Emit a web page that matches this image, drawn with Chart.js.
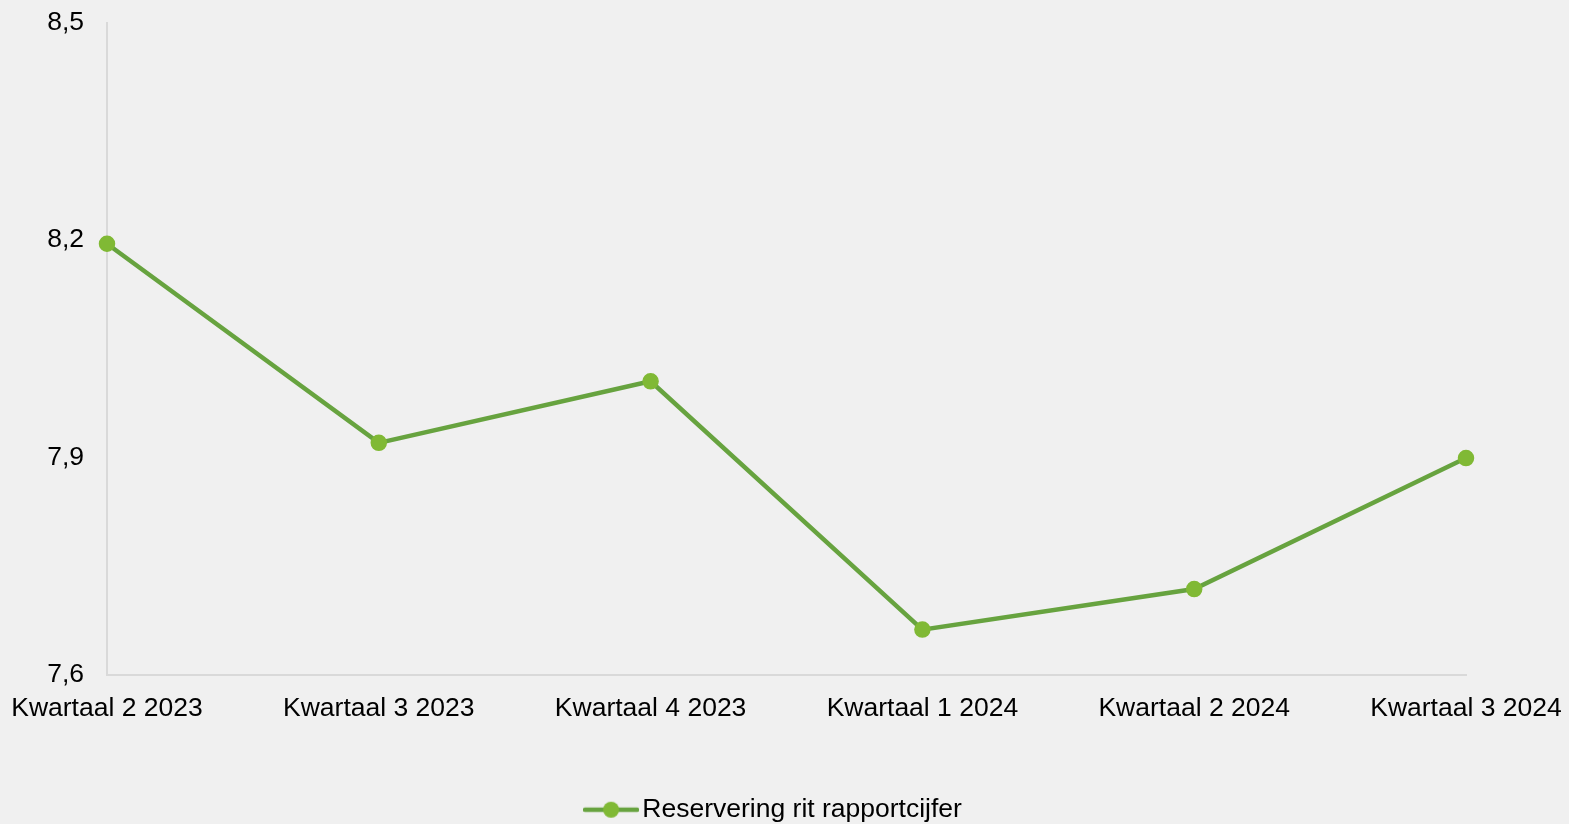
<!DOCTYPE html>
<html>
<head>
<meta charset="utf-8">
<script src="https://cdn.jsdelivr.net/npm/chart.js@4/dist/chart.umd.min.js"></script>
<style>
  html, body { margin: 0; padding: 0; background: #f0f0f0; }
  #wrap { width: 1569px; height: 824px; }
</style>
</head>
<body>
<div id="wrap"><canvas id="c" width="1569" height="824"></canvas></div>
<script>
const categories = ["Kwartaal 2 2023", "Kwartaal 3 2023", "Kwartaal 4 2023", "Kwartaal 1 2024", "Kwartaal 2 2024", "Kwartaal 3 2024"];
const seriesName = "Reservering rit rapportcijfer";
const seriesValues = [8.195, 7.92, 8.005, 7.662, 7.718, 7.899];
const yTicks = [7.6, 7.9, 8.2, 8.5];

const LINE = '#67a33f';
const MARK = '#80b935';
const FONT = "'Liberation Sans', Arial, sans-serif";
const FS = 26.5;

// legend symbol: line with a marker in the middle
const sym = document.createElement('canvas');
sym.width = 56; sym.height = 18;
(function(){
  const g = sym.getContext('2d');
  g.strokeStyle = LINE; g.lineWidth = 4.5; g.lineCap = 'round';
  g.beginPath(); g.moveTo(2, 9); g.lineTo(54, 9); g.stroke();
  g.fillStyle = MARK; g.beginPath(); g.arc(28, 9, 8, 0, Math.PI * 2); g.fill();
})();

new Chart(document.getElementById('c'), {
  type: 'line',
  data: {
    labels: categories,
    datasets: [{
      label: seriesName,
      data: seriesValues,
      borderColor: LINE,
      borderWidth: 4.5,
      pointBackgroundColor: MARK,
      pointBorderColor: MARK,
      pointBorderWidth: 1.5,
      pointRadius: 7.5,
      tension: 0,
      clip: false
    }]
  },
  options: {
    responsive: false,
    animation: false,
    layout: { padding: { left: 0, right: 14, top: 23, bottom: -9 } },
    plugins: {
      tooltip: { enabled: false },
      legend: {
        position: 'bottom',
        labels: {
          font: { family: FONT, size: FS },
          color: '#000',
          padding: 4,
          usePointStyle: true,
          pointStyleWidth: 36,
          boxHeight: 18,
          generateLabels: (chart) => [{
            text: seriesName,
            pointStyle: sym,
            fillStyle: MARK,
            strokeStyle: LINE,
            lineWidth: 0,
            hidden: false,
            datasetIndex: 0,
            fontColor: '#000'
          }]
        }
      }
    },
    scales: {
      x: {
        offset: false,
        grid: { display: false, drawTicks: false },
        border: { display: true, color: '#d9d9d9', width: 2 },
        ticks: { font: { family: FONT, size: FS }, color: '#000', padding: 18, maxRotation: 0, autoSkip: false },
        afterFit: (s) => { s.height = 118; s.paddingLeft = 0; s.paddingRight = 103; }
      },
      y: {
        min: 7.6,
        max: 8.5,
        afterBuildTicks: (s) => { s.ticks = yTicks.map(v => ({ value: v })); },
        grid: { display: false, drawTicks: false },
        border: { display: true, color: '#d9d9d9', width: 2 },
        ticks: {
          font: { family: FONT, size: FS }, color: '#000', padding: 23,
          callback: (v) => Number(v).toFixed(1).replace('.', ',')
        },
        afterFit: (s) => { s.width = 107; s.paddingTop = 0; s.paddingBottom = 0; }
      }
    }
  }
});
</script>
</body>
</html>
